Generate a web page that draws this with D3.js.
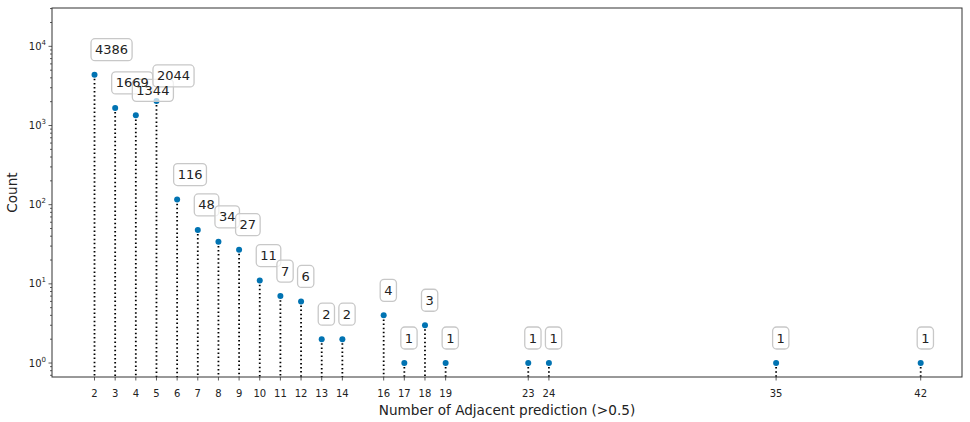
<!DOCTYPE html>
<html><head><meta charset="utf-8">
<script src="https://cdn.jsdelivr.net/npm/d3@7"></script>
<style>body{margin:0;background:#fff;} svg{display:block;font-family:"DejaVu Sans",sans-serif;}</style>
</head><body>
<svg id="c" width="970" height="422"></svg>
<script>
const adjacent = [2,3,4,5,6,7,8,9,10,11,12,13,14,16,17,18,19,23,24,35,42];
const counts = [4386,1669,1344,2044,116,48,34,27,11,7,6,2,2,4,1,3,1,1,1,1,1];
const yMajorTicks = [1,10,100,1000,10000];
const yTickExps = ["0","1","2","3","4"];
const xLabel = "Number of Adjacent prediction (>0.5)";
const yLabel = "Count";

const svg = d3.select("#c");
const L = 52, R = 962, T = 8, B = 377;
const x = d3.scaleLinear().domain([0,44]).range([L+1.2,R]);
const y = d3.scaleLog().domain([0.666,30500]).range([B,T]);

// minor ticks
const minor = [];
for (let e=-1;e<=4;e++) for (let m=2;m<=9;m++){const v=m*Math.pow(10,e); if(v>=y.domain()[0]&&v<=y.domain()[1]) minor.push(v);}
const g = svg.append("g");
g.selectAll(".mn").data(minor).join("line").attr("x1",L).attr("x2",L-2).attr("y1",d=>y(d)).attr("y2",d=>y(d)).attr("stroke","#333").attr("stroke-width",0.8);
g.selectAll(".mj").data(yMajorTicks).join("line").attr("x1",L).attr("x2",L-3.5).attr("y1",d=>y(d)).attr("y2",d=>y(d)).attr("stroke","#333").attr("stroke-width",0.8);
const yl = g.selectAll(".yl").data(yMajorTicks).join("text").attr("x",L-6).attr("y",d=>y(d)+3.5).attr("text-anchor","end").attr("font-size",10).attr("fill","#222");
yl.append("tspan").text("10");
yl.append("tspan").attr("dy",-5).attr("font-size",7).text((d,i)=>yTickExps[i]);

// x ticks
g.selectAll(".xt").data(adjacent).join("line").attr("x1",d=>x(d)).attr("x2",d=>x(d)).attr("y1",B).attr("y2",B+3.5).attr("stroke","#333").attr("stroke-width",0.8);
g.selectAll(".xl").data(adjacent).join("text").attr("x",d=>x(d)).attr("y",B+19.5).attr("text-anchor","middle").attr("font-size",10).attr("fill","#222").text(d=>d);

// stems
svg.append("g").selectAll("line").data(adjacent).join("line")
 .attr("x1",d=>x(d)).attr("x2",d=>x(d)).attr("y1",(d,i)=>y(counts[i])).attr("y2",B)
 .attr("stroke","#000").attr("stroke-width",1.8).attr("stroke-dasharray","1.5,2.6");
// points
svg.append("g").selectAll("circle").data(adjacent).join("circle")
 .attr("cx",d=>x(d)).attr("cy",(d,i)=>y(counts[i])).attr("r",3).attr("fill","#0173b2");

// frame
svg.append("rect").attr("x",L).attr("y",T).attr("width",R-L).attr("height",B-T).attr("fill","none").attr("stroke","#333").attr("stroke-width",1);

// annotations: boxes first, texts on top
const boxes = svg.append("g");
const texts = svg.append("g");
adjacent.forEach((d,i)=>{
  const px = x(d), py = y(counts[i]);
  const t = texts.append("text").attr("x",px+0.5).attr("y",py-20.5).attr("font-size",13).attr("fill","#222").text(counts[i]);
  const bb = t.node().getBBox();
  boxes.append("rect").attr("x",bb.x-4).attr("y",py-36).attr("width",bb.width+8).attr("height",22)
    .attr("rx",4).attr("fill","#fff").attr("fill-opacity",0.7).attr("stroke","#c8c8c8").attr("stroke-width",1.3);
});

// labels
svg.append("text").attr("x",(L+R)/2).attr("y",414.5).attr("text-anchor","middle").attr("font-size",13.6).attr("fill","#222").text(xLabel);
svg.append("text").attr("transform",`translate(17,${(T+B)/2}) rotate(-90)`).attr("text-anchor","middle").attr("font-size",13.6).attr("fill","#222").text(yLabel);
</script>
</body></html>
